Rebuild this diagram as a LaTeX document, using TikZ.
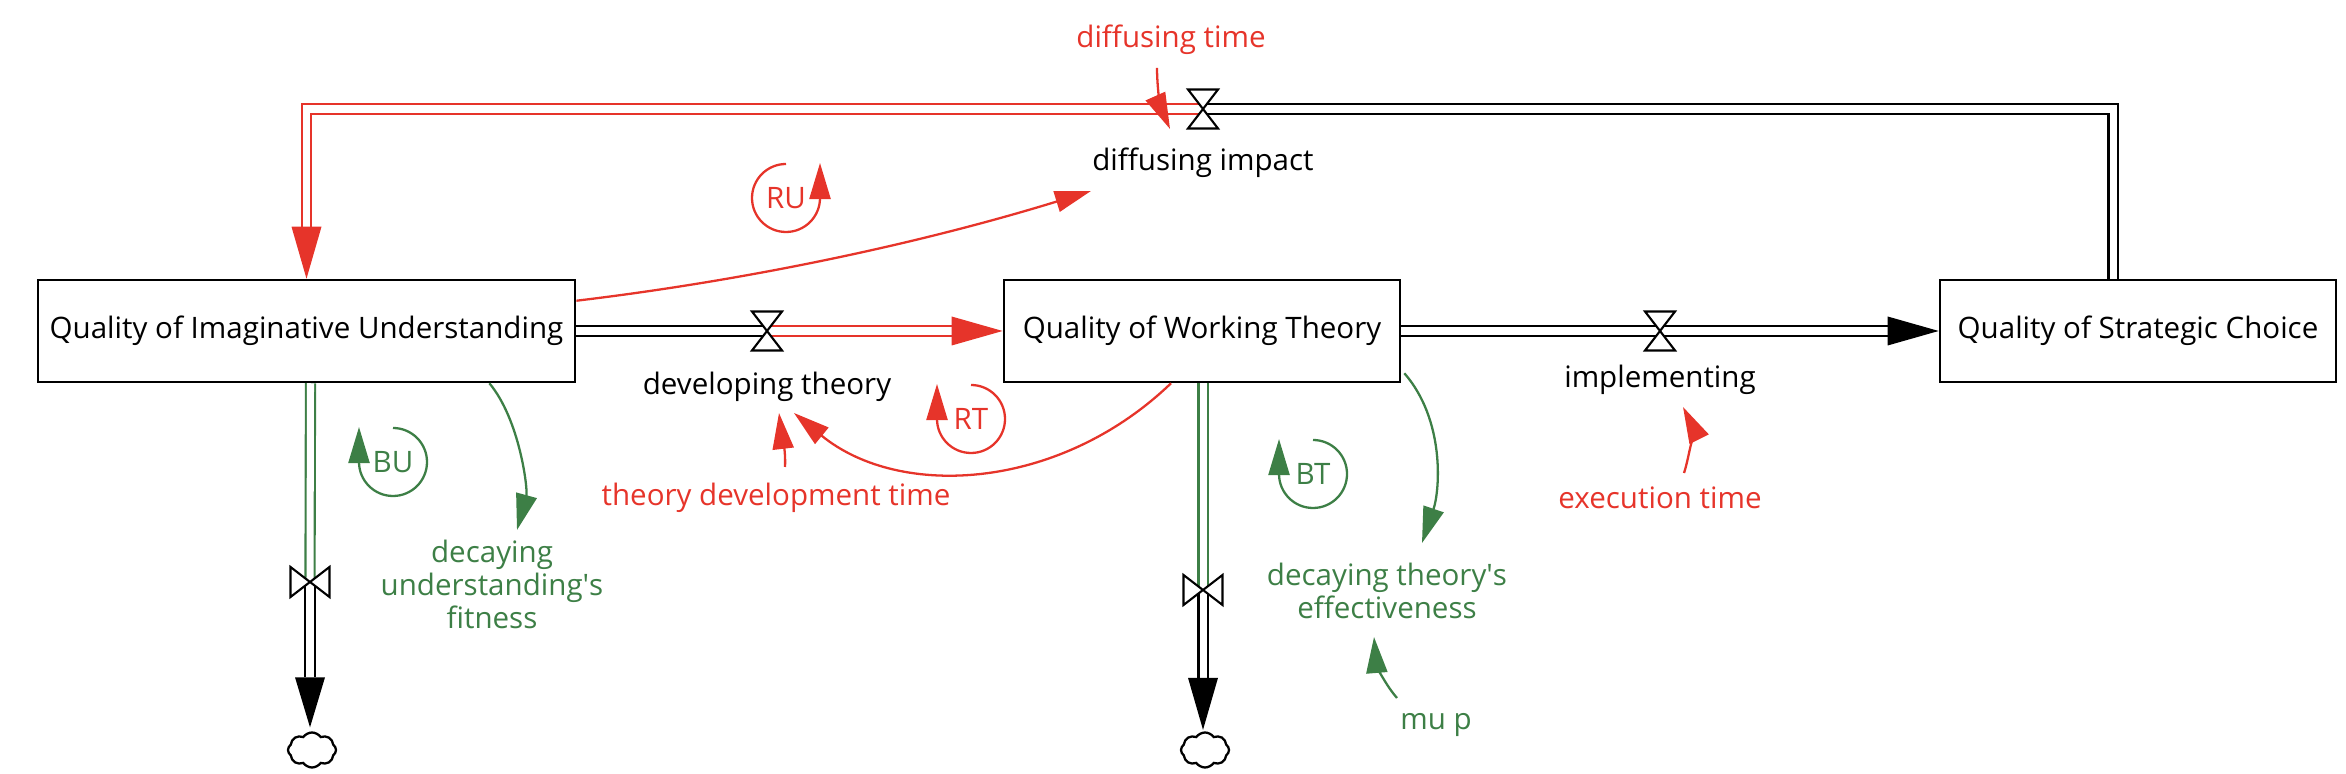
\documentclass[tikz,border=0pt]{standalone}
\usepackage{fontspec}
\setmainfont{Open Sans}
\usetikzlibrary{arrows.meta,calc,shapes.symbols}
\definecolor{lred}{RGB}{230,52,42}
\definecolor{lgreen}{RGB}{61,127,70}
\begin{document}
\begin{tikzpicture}[x=0.01cm,y=-0.01cm,
  lbl/.style={font=\fontsize{8.4}{9.4}\selectfont, inner sep=0pt, align=center},
  stock/.style={draw, line width=0.7pt, minimum height=1.02cm, inner sep=0pt, font=\fontsize{8.4}{9.4}\selectfont},
  pipe/.style={double distance=2pt, line width=0.6pt},
  link/.style={line width=0.65pt, -{Triangle[length=0.36cm,width=0.21cm]}},
  valve/.style={draw=black, fill=white, line width=0.6pt, line join=miter},
  sink/.style={cloud, draw, line width=0.65pt, cloud puffs=8, cloud puff arc=110, aspect=1.35, minimum width=0.48cm, minimum height=0.35cm, inner sep=0pt}
]
\useasboundingbox (0,0) rectangle (2346,774);

% stocks
\node[stock, minimum width=5.37cm] (QIU) at (306.5,331) {Quality of Imaginative Understanding};
\node[stock, minimum width=3.96cm] (QWT) at (1202,331) {Quality of Working Theory};
\node[stock, minimum width=3.96cm] (QSC) at (2138,331) {Quality of Strategic Choice};

% valves and sinks
\coordinate (vDev) at (767,331);
\coordinate (vImp) at (1660,331);
\coordinate (vDif) at (1203,109);
\coordinate (vU) at (310,582);
\coordinate (vT) at (1203,590);
\node[sink] (cU) at (312,750) {};
\node[sink] (cT) at (1205,750) {};

% labels
\node[lbl] (DI) at (1203,163) {diffusing impact};
\node[lbl, text=lred] (DT) at (1171,40) {diffusing time};
\node[lbl] (DEV) at (767,387) {developing theory};
\node[lbl, text=lred] (TDT) at (776,498) {theory development time};
\node[lbl] (IMP) at (1660,380) {implementing};
\node[lbl, text=lred] (ET) at (1660,498) {execution time};
\node[lbl, text=lgreen] (DUF) at (492,584) {decaying\\understanding\textquotesingle s\\fitness};
\node[lbl, text=lgreen] (DTE) at (1387,591) {decaying theory\textquotesingle s\\effectiveness};
\node[lbl, text=lgreen] (MUP) at (1436,725) {mu p};
\node[lbl, text=lred] (RU) at (786,198) {RU};
\node[lbl, text=lred] (RT) at (971,419) {RT};
\node[lbl, text=lgreen] (BU) at (393,462) {BU};
\node[lbl, text=lgreen] (BT) at (1313,474) {BT};

% pipes
\draw[pipe] (QIU.east) -- (vDev);
\draw[pipe, draw=lred] (vDev) -- ($(QWT.west)+(-50,0)$);
\draw[pipe] (QWT.east) -- ($(QSC.west)+(-50,0)$);
\draw[pipe] ($(QSC.north)+(-25,0)$) |- (vDif);
\draw[pipe, draw=lred] (vDif) -| ($(QIU.north)+(0,-50)$);
\draw[pipe, draw=lgreen] ($(QIU.south)+(4,0)$) -- (vU);
\draw[pipe] (vU) -- ($(cU.north)+(-2,-54)$);
\draw[pipe, draw=lgreen] ($(QWT.south)+(1,0)$) -- (vT);
\draw[pipe] (vT) -- ($(cT.north)+(-2,-52)$);

% pipe arrowheads
\fill[lred] (QWT.west) -- ++(-51,-14.5) -- ++(0,29) -- cycle;
\fill (QSC.west) -- ++(-51,-14.5) -- ++(0,29) -- cycle;
\fill[lred] (QIU.north) -- ++(-15,-52) -- ++(30,0) -- cycle;
\fill ($(cU.north)+(-2,-4)$) -- ++(-15,-50) -- ++(30,0) -- cycle;
\fill ($(cT.north)+(-2,-1.5)$) -- ++(-15,-52) -- ++(30,0) -- cycle;

% valves
\foreach \v in {vDev,vImp,vDif}
  \draw[valve] ($(\v)+(-15,-19.5)$) -- ++(30,0) -- ++(-30,39) -- ++(30,0) -- cycle;
\foreach \v in {vU,vT}
  \draw[valve] ($(\v)+(-19.5,-15)$) -- ++(0,30) -- ++(39,-30) -- ++(0,30) -- cycle;

% links
\draw[link, lred] ($(QIU.north east)+(0,22)$) .. controls (750,280) and (922,243) .. ($(DI)+(-112,28)$);
\draw[link, lred] ($(DT)+(-14,28)$) .. controls (1157,92) and (1162,111) .. ($(vDif)+(-33,20)$);
\draw[link, lred] ($(QWT.south)+(-31,0)$) .. controls (1060,490) and (900,500) .. ($(DEV)+(27,26)$);
\draw[link, lred] ($(TDT)+(9,-31)$) .. controls (786,448) and (781,430) .. ($(DEV)+(12,26)$);
\draw[link, lred] ($(ET)+(24,-25)$) .. controls (1690,455) and (1692,425) .. ($(IMP)+(23,27)$);
\draw[link, lgreen] ($(QIU.south east)+(-87,0)$) .. controls (520,420) and (528,490) .. ($(DUF)+(25,-54)$);
\draw[link, lgreen] ($(QWT.south east)+(3,-10)$) .. controls (1445,420) and (1440,490) .. ($(DTE)+(35,-48)$);
\draw[link, lgreen] ($(MUP)+(-39,-27)$) .. controls (1383,682) and (1376,662) .. ($(DTE)+(-13,46)$);

% loop markers
\draw[link, lred] ($(RU)+(0,-34)$) arc[start angle=-90, end angle=-360, radius=34] -- ++(0,-35);
\draw[link, lred] ($(RT)+(0,-34)$) arc[start angle=-90, end angle=180, radius=34] -- ++(0,-35);
\draw[link, lgreen] ($(BU)+(0,-34)$) arc[start angle=-90, end angle=180, radius=34] -- ++(0,-35);
\draw[link, lgreen] ($(BT)+(0,-34)$) arc[start angle=-90, end angle=180, radius=34] -- ++(0,-35);
\end{tikzpicture}
\end{document}
